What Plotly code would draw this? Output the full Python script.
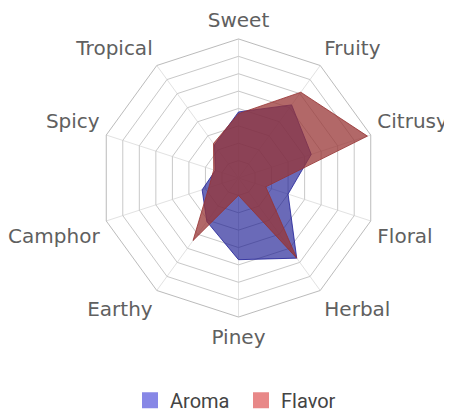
import plotly.graph_objects as go

categories = ["Sweet", "Fruity", "Citrusy", "Floral", "Herbal", "Piney", "Earthy", "Camphor", "Spicy", "Tropical"]
aroma = [3.8, 5.2, 4.4, 3.0, 5.7, 4.7, 3.1, 2.2, 1.4, 2.35]
flavor = [3.7, 6.1, 7.8, 1.65, 5.7, 1.0, 4.45, 1.8, 1.5, 2.45]
series_names = ["Aroma", "Flavor"]
label_positions = ["top center", "top right", "top right", "bottom right", "bottom right",
                   "bottom center", "bottom left", "bottom left", "top left", "top left"]
label_lower = [False, False, False, True, True, True, True, True, False, False]

R_MAX = 8
LABEL_R = 8.4

fill_colors = ["rgba(15,15,140,0.62)", "rgba(152,53,53,0.75)"]
line_colors = ["rgba(30,30,150,0.8)", "rgba(150,50,50,0.8)"]
legend_colors = ["#8787e6", "#e88888"]

fig = go.Figure()
for name, vals, fc, lc in zip(series_names, [aroma, flavor], fill_colors, line_colors):
    fig.add_trace(go.Scatterpolar(
        r=vals + vals[:1], theta=categories + categories[:1], name=name,
        mode="lines", fill="toself", showlegend=False,
        line=dict(color=lc, width=1), fillcolor=fc,
    ))
for name, lg in zip(series_names, legend_colors):
    fig.add_trace(go.Scatterpolar(
        r=[None], theta=[categories[0]], name=name, mode="markers",
        marker=dict(symbol="square", size=16, color=lg),
    ))
# category labels on invisible polars with the same scale (upper and lower halves)
for sub, lower in (("polar2", False), ("polar3", True)):
    fig.add_trace(go.Scatterpolar(
        r=[LABEL_R] * len(categories), theta=categories, mode="text", subplot=sub,
        text=[c if lw == lower else "" for c, lw in zip(categories, label_lower)],
        textposition=label_positions, cliponaxis=False,
        textfont=dict(family="DejaVu Sans", size=20, color="#606060"),
        showlegend=False, hoverinfo="skip",
    ))

W, H = 444, 404
CX, CY = 230.5, 169.7
R_PX = 139.0
LR_PX = R_PX * LABEL_R / R_MAX
SHIFT = 5.0
HP = 2 * LR_PX + SHIFT
T = CY - LR_PX
B = H - T - HP
L = 50
R = W - (2 * CX - L)

hidden_polar = dict(
    bgcolor="rgba(0,0,0,0)",
    gridshape="linear",
    radialaxis=dict(range=[0, LABEL_R], visible=False),
    angularaxis=dict(rotation=90, direction="clockwise", visible=False,
                     categoryarray=categories, categoryorder="array"),
)

fig.update_layout(
    width=W, height=H,
    margin=dict(l=L, r=R, t=T, b=B, autoexpand=False),
    paper_bgcolor="white",
    font=dict(family="DejaVu Sans", color="#606060"),
    polar=dict(
        domain=dict(x=[0, 1], y=[1 - (LR_PX + R_PX) / HP, 1 - (LR_PX - R_PX) / HP]),
        bgcolor="white",
        gridshape="linear",
        radialaxis=dict(range=[0, R_MAX], dtick=1, showticklabels=False, ticks="",
                        showline=False, gridcolor="#c8c8c8", gridwidth=1),
        angularaxis=dict(rotation=90, direction="clockwise", ticks="",
                         showticklabels=False,
                         linecolor="#bbbbbb", gridcolor="#e2e2e2"),
    ),
    polar2=dict(domain=dict(x=[0, 1], y=[1 - 2 * LR_PX / HP, 1]), **hidden_polar),
    polar3=dict(domain=dict(x=[0, 1], y=[0, 1 - SHIFT / HP]), **hidden_polar),
    legend=dict(orientation="h", x=(233 - L) / (W - L - R), xanchor="center",
                y=((H - B) - 392) / HP, yanchor="middle", entrywidth=66,
                font=dict(family="Roboto", size=20, color="#444")),
)
fig.write_html("out.html")
